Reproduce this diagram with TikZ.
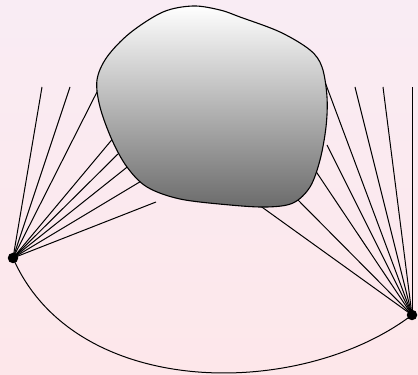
\documentclass[tikz,border=0pt]{standalone}
\begin{document}
\begin{tikzpicture}[x=1pt,y=1pt,
  dotnode/.style={circle,fill=black,inner sep=0pt,minimum size=10.5pt},
  ray/.style={draw=black,line width=1pt},
  blobstyle/.style={draw=black,line width=1.1pt,top color=white,bottom color=black!58}]
\definecolor{bgtop}{RGB}{249,236,244}
\definecolor{bgbot}{RGB}{253,231,234}
\shade[top color=bgtop,bottom color=bgbot] (0,0) rectangle (418,375);
\useasboundingbox (0,0) rectangle (418,375);
\node[dotnode] (L) at (13,117) {};
\node[dotnode] (R) at (412,60) {};
% free ends and blob contact points
\coordinate (l1) at (42,288);
\coordinate (l2) at (70,288);
\coordinate (l3) at (100,289);
\coordinate (l4) at (115,239);
\coordinate (l5) at (122,225);
\coordinate (l6) at (131,211);
\coordinate (l7) at (143,195);
\coordinate (l8) at (156,173);
\coordinate (r1) at (412,288);
\coordinate (r2) at (383,288);
\coordinate (r3) at (355,288);
\coordinate (r4) at (325,293);
\coordinate (r5) at (327,230);
\coordinate (r6) at (315,205);
\coordinate (r7) at (295,178);
\coordinate (r8) at (259,170);
\foreach \p in {l1,l2,l3,l4,l5,l6,l7,l8} \draw[ray] (L.center) -- (\p);
\foreach \p in {r1,r2,r3,r4,r5,r6,r7,r8} \draw[ray] (R.center) -- (\p);
\path[blobstyle] plot[smooth cycle,tension=0.55] coordinates {
 (193,369) (163,363) (130,342) (107,318) (97,295) (100,268) (112,235)
 (127,208) (147,188) (180,176) (230,170) (267,168) (293,172) (310,188)
 (320,215) (326,248) (327,278) (322,308) (310,325) (280,343) (240,358) (220,365)};
\draw[ray] (L.center) .. controls (75,-25) and (300,-25) .. (R.center);
\end{tikzpicture}
\end{document}
